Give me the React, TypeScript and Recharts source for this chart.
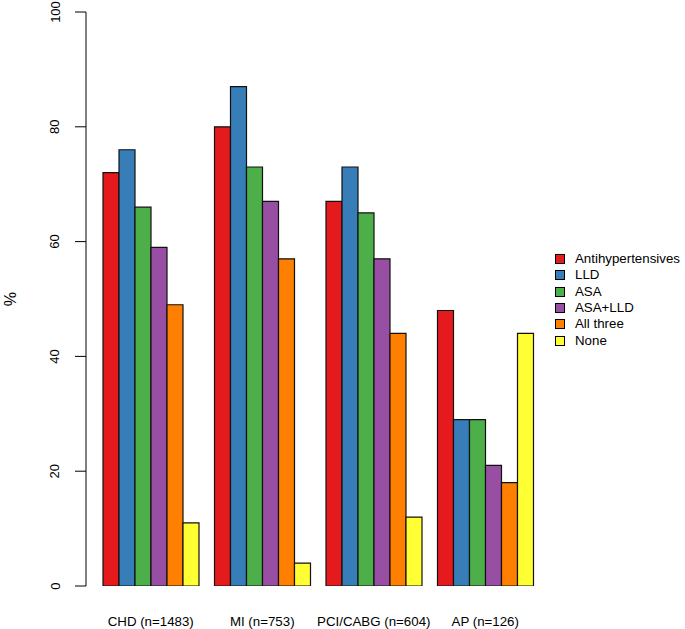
import React from 'react'
import { BarChart, Bar, XAxis, YAxis } from 'recharts'

const groups = ['CHD (n=1483)', 'MI (n=753)', 'PCI/CABG (n=604)', 'AP (n=126)']

const antihypertensives = [72, 80, 67, 48]
const lld = [76, 87, 73, 29]
const asa = [66, 73, 65, 29]
const asaLld = [59, 67, 57, 21]
const allThree = [49, 57, 44, 18]
const none = [11, 4, 12, 44]

const yTicks = [0, 20, 40, 60, 80, 100]

const series = [
  { key: 'antihypertensives', name: 'Antihypertensives', color: '#E41A1C', values: antihypertensives },
  { key: 'lld', name: 'LLD', color: '#377EB8', values: lld },
  { key: 'asa', name: 'ASA', color: '#4DAF4A', values: asa },
  { key: 'asaLld', name: 'ASA+LLD', color: '#984EA3', values: asaLld },
  { key: 'allThree', name: 'All three', color: '#FF7F00', values: allThree },
  { key: 'none', name: 'None', color: '#FFFF33', values: none },
]

const FONT = '"Liberation Sans", Arial, Helvetica, sans-serif'

const chartData = groups.map((g, i) => {
  const row: Record<string, any> = { group: g }
  series.forEach(s => { row[s.key] = s.values[i] })
  return row
})

// rotated y tick labels like base R
const YTick = ({ x, y, payload }: any) => (
  <text x={x - 18} y={y} transform={`rotate(-90, ${x - 18}, ${y})`} textAnchor="middle"
    dominantBaseline="central" fontSize={13} fill="#000" fontFamily={FONT}>
    {payload.value}
  </text>
)

const XTick = ({ x, y, payload }: any) => (
  <text x={x} y={y + 35} textAnchor="middle" dominantBaseline="central" fontSize={13.3} fill="#000" fontFamily={FONT}>
    {payload.value}
  </text>
)

const PctLabel = ({ viewBox }: any) => {
  const lx = viewBox.x + 10
  const ly = viewBox.y + viewBox.height / 2
  return (
    <text x={lx} y={ly} transform={`rotate(-90, ${lx}, ${ly})`} textAnchor="middle"
      dominantBaseline="central" fontSize={16} fill="#000" fontFamily={FONT}>%</text>
  )
}

export default function App() {
  return (
    <div style={{ position: 'absolute', left: 0, top: 0, width: 685, height: 629, background: '#fff', fontFamily: FONT }}>
      <BarChart width={685} height={629} data={chartData}
        margin={{ top: 12, right: 144, bottom: 0, left: 0 }}
        barCategoryGap={8} barGap={0}>
        <XAxis dataKey="group" axisLine={false} tickLine={false} tickSize={0} tickMargin={0}
          height={43} padding={{ left: 9, right: 0 }} tick={<XTick />} interval={0} />
        <YAxis domain={[0, 100]} ticks={yTicks} width={86} tickSize={11} tickMargin={2}
          axisLine={{ stroke: '#000' }} tickLine={{ stroke: '#000' }} tick={<YTick />}
          label={<PctLabel />} allowDataOverflow />
        {series.map(s => (
          <Bar key={s.key} dataKey={s.key} name={s.name} fill={s.color} stroke="#111"
            strokeWidth={1.2} isAnimationActive={false} />
        ))}
      </BarChart>
      <div style={{ position: 'absolute', left: 555, top: 251 }}>
        {series.map(s => (
          <div key={s.key} style={{ display: 'flex', alignItems: 'center', height: 16.3 }}>
            <div style={{ width: 8, height: 8, background: s.color, border: '1px solid #000' }} />
            <span style={{ marginLeft: 10, fontSize: 13.3, color: '#000', lineHeight: '16px' }}>{s.name}</span>
          </div>
        ))}
      </div>
    </div>
  )
}
